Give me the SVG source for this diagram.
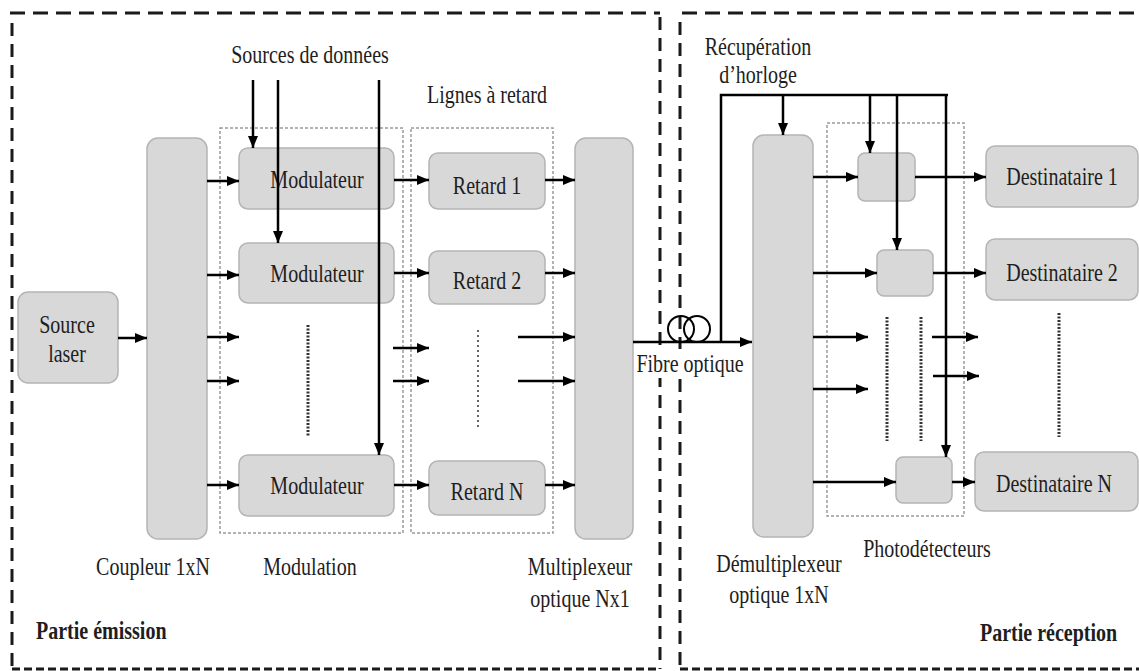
<svg xmlns="http://www.w3.org/2000/svg" width="1139" height="671" viewBox="0 0 1139 671">
  <style>
    text { font-family: "Liberation Serif", "Times New Roman", serif; font-size: 20px; fill: #1e1e1e; text-anchor: middle; }
    .b { font-weight: bold; text-anchor: start; }
    .node { fill: #d8d8d8; stroke: #b4b4b4; stroke-width: 1.5; }
    .grp { fill: none; stroke: #9a9a9a; stroke-width: 1.5; stroke-dasharray: 3 2; }
    .frameH { fill: none; stroke: #1a1a1a; stroke-width: 3; stroke-dasharray: 15 8; }
    .frameV { fill: none; stroke: #1a1a1a; stroke-width: 3; stroke-dasharray: 13 8; }
    .frameB { fill: none; stroke: #1a1a1a; stroke-width: 3; stroke-dasharray: 8 4; }
    .arr { fill: none; stroke: #000; stroke-width: 2.5; marker-end: url(#ah); }
    .ln { fill: none; stroke: #000; stroke-width: 2.5; }
    .dots { fill: none; stroke: #333; stroke-width: 3; stroke-dasharray: 2 1.5; }
    .dotsl { fill: none; stroke: #666; stroke-width: 2; stroke-dasharray: 2 3; }
  </style>
  <defs>
    <marker id="ah" markerUnits="userSpaceOnUse" markerWidth="12" markerHeight="10" refX="12" refY="5" orient="auto">
      <path d="M0,0 L12,5 L0,10 z" fill="#000"/>
    </marker>
  </defs>
  <rect width="1139" height="671" fill="#fff"/>

  <g id="frames">
    <line class="frameH" x1="10" y1="13" x2="660" y2="13"/>
    <line class="frameV" x1="12" y1="23" x2="12" y2="669"/>
    <line class="frameV" x1="660" y1="17" x2="660" y2="669"/>
    <line class="frameB" x1="12" y1="669" x2="660" y2="669"/>
    <line class="frameH" x1="682" y1="13" x2="1139" y2="13"/>
    <line class="frameV" x1="680" y1="22" x2="680" y2="669"/>
    <line class="frameB" x1="680" y1="669" x2="1139" y2="669"/>
    <text class="b" transform="translate(36,639) scale(1,1.28)">Partie émission</text>
    <text class="b" transform="translate(980,641) scale(1,1.28)">Partie réception</text>
  </g>

  <g id="groups">
    <rect class="grp" x="220" y="128" width="183" height="405"/>
    <text transform="translate(310,575) scale(1,1.28)">Modulation</text>
    <rect class="grp" x="411" y="128" width="142" height="405"/>
    <text transform="translate(487,103) scale(1,1.28)">Lignes à retard</text>
    <rect class="grp" x="827" y="123" width="137" height="393"/>
    <text transform="translate(927,557) scale(1,1.28)">Photodétecteurs</text>
    <text transform="translate(310,63) scale(1,1.28)">Sources de données</text>
    <text transform="translate(758,55) scale(1,1.28)">Récupération</text>
    <text transform="translate(758,83) scale(1,1.28)">d’horloge</text>
  </g>

  <g id="source-laser">
    <rect class="node" x="18" y="292" width="100" height="91" rx="10"/>
    <text transform="translate(67,333) scale(1,1.28)">Source</text>
    <text transform="translate(67,362) scale(1,1.28)">laser</text>
  </g>
  <g id="coupleur">
    <rect class="node" x="147" y="138" width="60" height="401" rx="11"/>
    <text transform="translate(153,575) scale(1,1.28)">Coupleur 1xN</text>
  </g>
  <g id="modulateur-1">
    <rect class="node" x="239" y="148" width="155" height="61" rx="9"/>
    <text transform="translate(317,188) scale(1,1.28)">Modulateur</text>
  </g>
  <g id="modulateur-2">
    <rect class="node" x="239" y="243" width="155" height="60" rx="9"/>
    <text transform="translate(317,282) scale(1,1.28)">Modulateur</text>
  </g>
  <g id="modulateur-n">
    <rect class="node" x="239" y="455" width="155" height="61" rx="9"/>
    <text transform="translate(317,494) scale(1,1.28)">Modulateur</text>
  </g>
  <g id="retard-1">
    <rect class="node" x="429" y="153" width="116" height="56" rx="9"/>
    <text transform="translate(487,194) scale(1,1.28)">Retard 1</text>
  </g>
  <g id="retard-2">
    <rect class="node" x="429" y="251" width="116" height="53" rx="9"/>
    <text transform="translate(487,289) scale(1,1.28)">Retard 2</text>
  </g>
  <g id="retard-n">
    <rect class="node" x="429" y="461" width="116" height="54" rx="9"/>
    <text transform="translate(487,500) scale(1,1.28)">Retard N</text>
  </g>
  <g id="multiplexeur">
    <rect class="node" x="575" y="138" width="58" height="401" rx="11"/>
    <text transform="translate(580,575) scale(1,1.28)">Multiplexeur</text>
    <text transform="translate(580,607) scale(1,1.28)">optique Nx1</text>
  </g>
  <g id="demultiplexeur">
    <rect class="node" x="753" y="135" width="60" height="402" rx="11"/>
    <text transform="translate(779,572) scale(1,1.28)">Démultiplexeur</text>
    <text transform="translate(779,603) scale(1,1.28)">optique 1xN</text>
  </g>
  <g id="photodetecteur-1">
    <rect class="node" x="858" y="153" width="57" height="48" rx="7"/>
  </g>
  <g id="photodetecteur-2">
    <rect class="node" x="877" y="250" width="56" height="46" rx="7"/>
  </g>
  <g id="photodetecteur-n">
    <rect class="node" x="896" y="457" width="56" height="46" rx="7"/>
  </g>
  <g id="destinataire-1">
    <rect class="node" x="986" y="146" width="152" height="61" rx="9"/>
    <text transform="translate(1062,185) scale(1,1.28)">Destinataire 1</text>
  </g>
  <g id="destinataire-2">
    <rect class="node" x="986" y="239" width="152" height="61" rx="9"/>
    <text transform="translate(1062,281) scale(1,1.28)">Destinataire 2</text>
  </g>
  <g id="destinataire-n">
    <rect class="node" x="975" y="452" width="163" height="59" rx="9"/>
    <text transform="translate(1054,492) scale(1,1.28)">Destinataire N</text>
  </g>

  <g id="ellipsis">
    <line class="dots" x1="308" y1="325" x2="308" y2="437"/>
    <line class="dotsl" x1="478" y1="330" x2="478" y2="428"/>
    <line class="dots" x1="887" y1="317" x2="887" y2="441"/>
    <line class="dots" x1="921" y1="317" x2="921" y2="441"/>
    <line class="dots" x1="1059" y1="313" x2="1059" y2="437"/>
  </g>

  <g id="connectors">
    <line class="arr" x1="118" y1="338" x2="147" y2="338"/>
    <line class="arr" x1="207" y1="181" x2="239" y2="181"/>
    <line class="arr" x1="207" y1="275" x2="239" y2="275"/>
    <line class="arr" x1="207" y1="337" x2="239" y2="337"/>
    <line class="arr" x1="207" y1="381" x2="239" y2="381"/>
    <line class="arr" x1="207" y1="485" x2="239" y2="485"/>
    <line class="arr" x1="253" y1="80" x2="253" y2="148"/>
    <line class="arr" x1="278" y1="80" x2="278" y2="243"/>
    <line class="arr" x1="379" y1="80" x2="379" y2="455"/>
    <line class="arr" x1="394" y1="180" x2="429" y2="180"/>
    <line class="arr" x1="394" y1="273" x2="429" y2="273"/>
    <line class="arr" x1="393" y1="348" x2="429" y2="348"/>
    <line class="arr" x1="393" y1="381" x2="429" y2="381"/>
    <line class="arr" x1="394" y1="485" x2="429" y2="485"/>
    <line class="arr" x1="545" y1="180" x2="575" y2="180"/>
    <line class="arr" x1="545" y1="273" x2="575" y2="273"/>
    <line class="arr" x1="518" y1="337" x2="575" y2="337"/>
    <line class="arr" x1="518" y1="381" x2="575" y2="381"/>
    <line class="arr" x1="545" y1="485" x2="575" y2="485"/>
    <g id="fibre">
      <line class="arr" x1="633" y1="342" x2="752" y2="342"/>
      <circle cx="681" cy="329" r="13" fill="none" stroke="#000" stroke-width="2"/>
      <circle cx="697" cy="329" r="13" fill="none" stroke="#000" stroke-width="2"/>
      <rect x="634" y="349" width="113" height="29" fill="#fff"/>
      <text transform="translate(690,372) scale(1,1.28)">Fibre optique</text>
    </g>
    <polyline class="ln" points="721,342 721,95 948,95"/>
    <line class="arr" x1="783" y1="95" x2="783" y2="135"/>
    <line class="arr" x1="870" y1="95" x2="870" y2="153"/>
    <line class="arr" x1="897" y1="95" x2="897" y2="250"/>
    <line class="arr" x1="946" y1="95" x2="946" y2="457"/>
    <line class="arr" x1="813" y1="177" x2="858" y2="177"/>
    <line class="arr" x1="813" y1="273" x2="877" y2="273"/>
    <line class="arr" x1="813" y1="337" x2="868" y2="337"/>
    <line class="arr" x1="813" y1="389" x2="868" y2="389"/>
    <line class="arr" x1="813" y1="482" x2="896" y2="482"/>
    <line class="arr" x1="915" y1="177" x2="986" y2="177"/>
    <line class="arr" x1="933" y1="273" x2="986" y2="273"/>
    <line class="arr" x1="932" y1="337" x2="978" y2="337"/>
    <line class="arr" x1="933" y1="376" x2="979" y2="376"/>
    <line class="arr" x1="952" y1="482" x2="975" y2="482"/>
  </g>
</svg>
